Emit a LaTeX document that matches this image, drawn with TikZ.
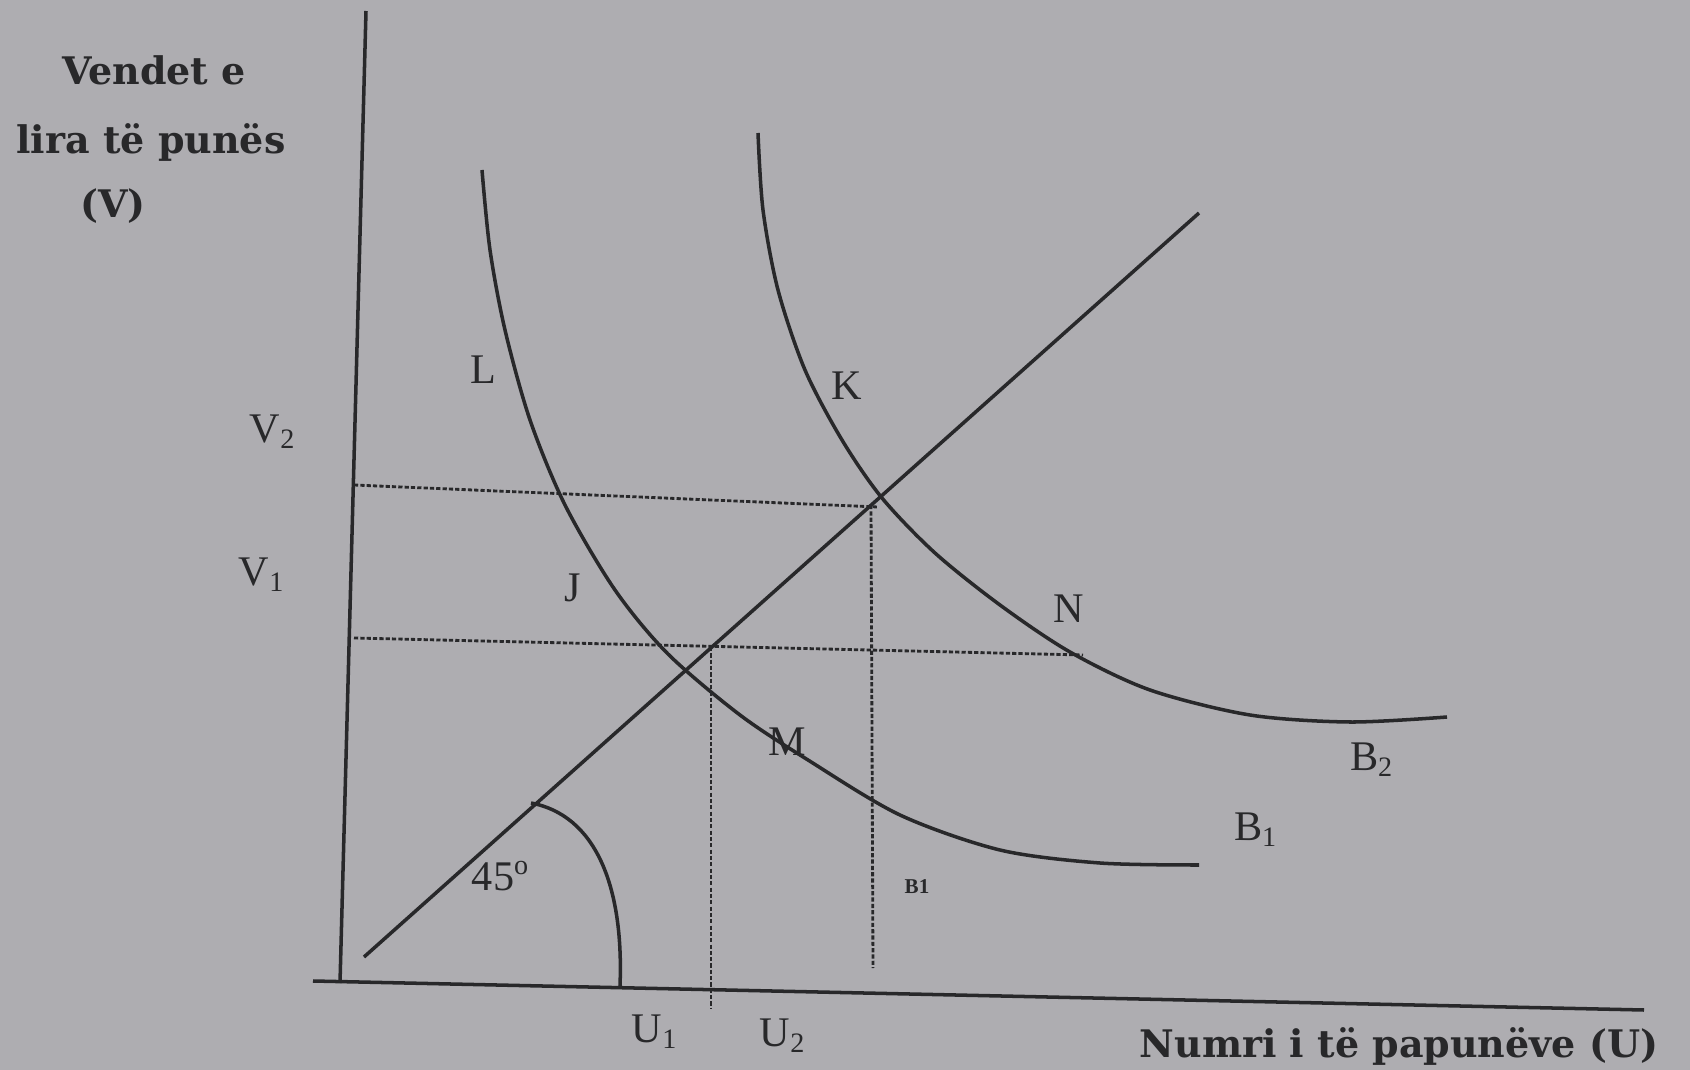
\documentclass[tikz,border=0pt]{standalone}
\usepackage{fontspec}
\setmainfont{Liberation Serif}
\newfontfamily\titlefont{DejaVu Serif}
\usetikzlibrary{positioning}

\definecolor{paper}{RGB}{174,173,177}
\definecolor{ink}{RGB}{40,40,42}

\begin{document}
\begin{tikzpicture}[
  x=0.01cm, y=-0.01cm,
  axis/.style={draw=ink, line width=1pt},
  curve/.style={draw=ink, line width=1pt, smooth},
  guide/.style={draw=ink, line width=0.8pt, dash pattern=on 1.2pt off 0.6pt},
  lbl/.style={text=ink, inner sep=0pt, font=\fontsize{12}{14}\selectfont},
  ttl/.style={text=ink, inner sep=0pt, font=\titlefont\fontsize{10.8}{13}\selectfont\bfseries}
]
\fill[paper] (0,0) rectangle (1690,1070);
\useasboundingbox (0,0) rectangle (1690,1070);

% axes
\coordinate (ytop) at (366,11);
\coordinate (ybot) at (340,983);
\coordinate (xleft) at (313,981);
\coordinate (xright) at (1644,1010);
\draw[axis] (ytop) -- (ybot);
\draw[axis] (xleft) -- (xright);

% 45 degree line
\coordinate (d0) at (364,957);
\coordinate (d1) at (1199,213);
\draw[axis] (d0) -- (d1);

% curves B1 and B2
\draw[curve] plot coordinates {(482,170) (490,250) (505,330) (530,420) (565,505) (615,590)
  (668,654) (740,715) (808,760) (900,815) (1000,850) (1100,863) (1199,865)};
\draw[curve] plot coordinates {(758,133) (763,210) (778,290) (805,370) (842,440) (882,498)
  (935,553) (1000,605) (1070,652) (1150,690) (1250,715) (1350,722) (1447,717)};

% guide lines
\coordinate (v2l) at (354,485);
\coordinate (v2r) at (878,507);
\coordinate (v1l) at (354,638);
\coordinate (v1r) at (1083,655);
\coordinate (u1t) at (711,647);
\coordinate (u1b) at (711,1008);
\coordinate (u2t) at (871,505);
\coordinate (u2b) at (873,968);
\draw[guide] (v2l) -- (v2r);
\draw[guide] (v1l) -- (v1r);
\draw[guide] (u1t) -- (u1b);
\draw[guide] (u2t) -- (u2b);

% angle arc
\coordinate (a0) at (531,803);
\coordinate (a1) at (620,986);
\draw[axis] (a0) .. controls (595,815) and (624,885) .. (a1);

% labels
\node[ttl] (vtitle1) at (154,70) {Vendet e};
\node[ttl] (vtitle2) at (151,142) {lira të punës};
\node[ttl] (vtitle3) at (113,206) {(V)};
\node[ttl] (utitle) at (1399,1046) {Numri i të papunëve (U)};
\node[lbl] (V2) at (273,432) {V\textsubscript{2}};
\node[lbl] (V1) at (262,575) {V\textsubscript{1}};
\node[lbl] (U1) at (655,1032) {U\textsubscript{1}};
\node[lbl] (U2) at (783,1036) {U\textsubscript{2}};
\node[lbl] (L) at (483,370) {L};
\node[lbl] (K) at (847,386) {K};
\node[lbl] (J) at (573,588) {J};
\node[lbl] (N) at (1069,609) {N};
\node[lbl] (M) at (787,742) {M};
\node[lbl] (B2) at (1372,760) {B\textsubscript{2}};
\node[lbl] (B1) at (1256,830) {B\textsubscript{1}};
\node[lbl] (ang) at (501,876) {45\textsuperscript{o}};
\node[lbl, font=\fontsize{6}{7}\selectfont\bfseries] (b1s) at (917,887) {B1};
\end{tikzpicture}
\end{document}
